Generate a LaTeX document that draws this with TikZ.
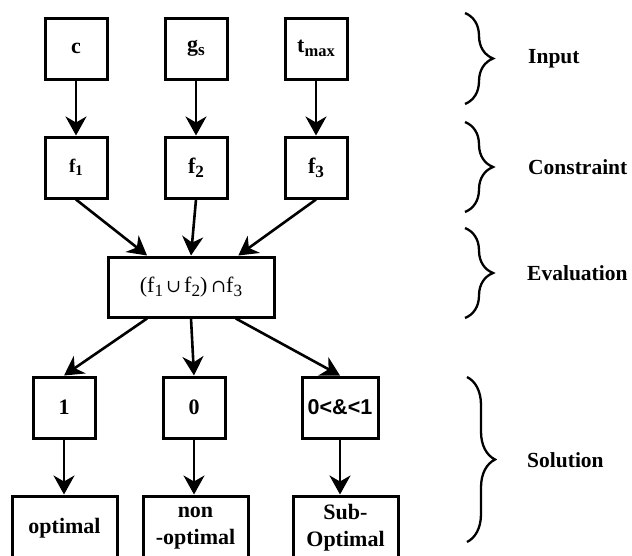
\documentclass[tikz,border=0pt]{standalone}
\usepackage{fontspec}
\setmainfont{Liberation Serif}
\newfontfamily\sansb{Liberation Sans}
\newfontfamily\dvs{DejaVu Serif}
\usetikzlibrary{arrows.meta,decorations.pathreplacing,calc}
\newcommand\dn[2][0.78]{\raisebox{-0.4ex}{\scalebox{#1}{#2}}}
\tikzset{
  box/.style={draw, line width=3pt, minimum width=62pt, minimum height=61pt, inner sep=0pt, align=center,
    font=\fontsize{22}{27}\selectfont\bfseries},
  arr/.style={line width=2.6pt, -{Stealth[length=19pt,width=21pt,inset=6pt]}},
  brc/.style={line width=2.3pt, decorate, decoration={brace, amplitude=28pt}},
  lab/.style={anchor=west, inner sep=0pt, font=\fontsize{21.5}{26}\selectfont\bfseries}
}
\begin{document}
\begin{tikzpicture}[x=1pt,y=-1pt]
\useasboundingbox (0,0) rectangle (632,555);
% input row
\node[box] (c) at (76,48.5) {c};
\node[box] (gs) at (196,48.5) {g\dn{s}};
\node[box] (tm) at (316,48.5) {t\dn[0.75]{max}};
% constraint row
\node[box] (f1) at (76,167.5) {\fontsize{19}{22}\selectfont f\dn{1}};
\node[box] (f2) at (196,167.5) {f\dn{2}};
\node[box] (f3) at (316,167.5) {f\dn{3}};
% evaluation
\node[box, minimum width=166pt, minimum height=60pt, font=\fontsize{22}{26}\selectfont] (ev) at (191,287)
  {(f\dn{1}{\dvs\fontsize{18}{20}\selectfont\,∪\,}f\dn{2})\,{\dvs\fontsize{18}{20}\selectfont∩}f\dn{3}};
% solution row
\node[box] (one) at (64,407.5) {1};
\node[box] (zero) at (194,407.5) {0};
\node[box, minimum width=76pt, font=\fontsize{21.5}{26}\selectfont\sansb\bfseries] (frac) at (340,407.5) {0<\&<1};
\node[box, minimum width=105pt, minimum height=64pt] (opt) at (64.5,528) {optimal};
\node[box, minimum width=105pt, minimum height=64pt] (non) at (195.5,528) {non\\-optimal};
\node[box, minimum width=105pt, minimum height=64pt] (sub) at (345.5,528) {Sub-\\Optimal};
% coordinates on eval box
\coordinate (et1) at ($(ev.north west)!0.24!(ev.north east)$);
\coordinate (et3) at ($(ev.north west)!0.78!(ev.north east)$);
\coordinate (eb1) at ($(ev.south west)!0.24!(ev.south east)$);
\coordinate (eb3) at ($(ev.south west)!0.765!(ev.south east)$);
% arrows
\draw[arr] (c) -- (f1);
\draw[arr] (gs) -- (f2);
\draw[arr] (tm) -- (f3);
\draw[arr] (f1.south) -- (et1);
\draw[arr] (f2.south) -- (ev.north);
\draw[arr] (f3.south) -- (et3);
\draw[arr] (eb1) -- (one.north);
\draw[arr] (ev.south) -- (zero.north);
\draw[arr] (eb3) -- (frac.north);
\draw[arr] (one.south) -- (one.south |- opt.north);
\draw[arr] (zero.south) -- (zero.south |- non.north);
\draw[arr] (frac.south) -- (frac.south |- sub.north);
% braces
\coordinate (b1a) at (465,13);  \coordinate (b1b) at (465,104);
\coordinate (b2a) at (465,122); \coordinate (b2b) at (465,212);
\coordinate (b3a) at (465,228); \coordinate (b3b) at (465,318);
\coordinate (b4a) at (467,377); \coordinate (b4b) at (467,542);
\draw[brc] (b1a) -- (b1b);
\draw[brc] (b2a) -- (b2b);
\draw[brc] (b3a) -- (b3b);
\draw[brc] (b4a) -- (b4b);
\node[lab] (lin) at (528,59) {Input};
\node[lab] (lco) at (528,167) {Constraint};
\node[lab] (lev) at (527,273) {Evaluation};
\node[lab] (lso) at (527,460) {Solution};
\end{tikzpicture}
\end{document}
